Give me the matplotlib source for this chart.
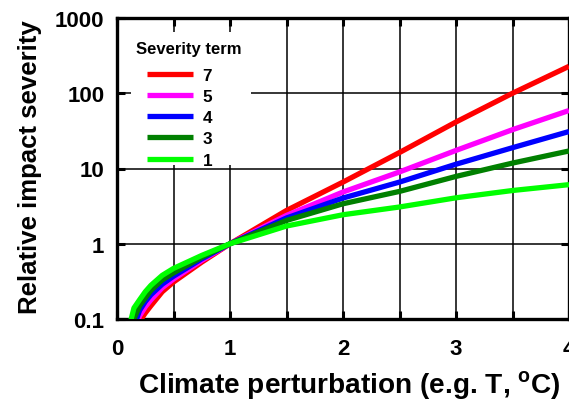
import numpy as np
import matplotlib
matplotlib.use("Agg")
import matplotlib.pyplot as plt
from matplotlib.patches import Rectangle
from matplotlib.ticker import FixedLocator, FixedFormatter, MultipleLocator

plt.rcParams['font.family'] = ['Liberation Sans', 'DejaVu Sans']
plt.rcParams['font.weight'] = 'bold'
plt.rcParams['mathtext.fontset'] = 'custom'
plt.rcParams['mathtext.bf'] = 'Liberation Sans:bold'
plt.rcParams['mathtext.rm'] = 'Liberation Sans:bold'

#============================================
# values
x_vals = [0.10, 0.15, 0.20, 0.25, 0.30, 0.40, 0.50, 0.75, 1.0, 1.5, 2.0, 2.5, 3.0, 3.5, 4.0]

sev_7 = [0.030, 0.060, 0.093, 0.120, 0.150, 0.230, 0.310, 0.570, 1.0, 2.77, 6.6, 16.3, 41.5, 100.0, 228.0]
sev_5 = [0.035, 0.070, 0.110, 0.145, 0.180, 0.260, 0.340, 0.600, 1.0, 2.38, 4.87, 9.0, 17.4, 32.8, 59.0]
sev_4 = [0.040, 0.080, 0.130, 0.170, 0.210, 0.290, 0.370, 0.630, 1.0, 2.20, 4.05, 6.6, 11.4, 18.9, 31.0]
sev_3 = [0.050, 0.100, 0.150, 0.190, 0.240, 0.330, 0.410, 0.660, 1.0, 2.04, 3.40, 4.96, 7.85, 11.8, 17.1]
sev_1 = [0.070, 0.140, 0.180, 0.230, 0.280, 0.380, 0.470, 0.700, 1.0, 1.72, 2.43, 3.08, 4.08, 5.1, 6.1]

series_labels = ["7", "5", "4", "3", "1"]
series_colors = ["#ff0000", "#ff00ff", "#0000ff", "#008000", "#00ff00"]
legend_title = "Severity term"

y_ticks = [0.1, 1, 10, 100, 1000]
y_ticklabels = ["0.1", "1", "10", "100", "1000"]
x_ticks = [0, 1, 2, 3, 4]
x_ticklabels = ["0", "1", "2", "3", "4"]
#============================================


def main():
    fig = plt.figure(figsize=(5.69, 4.02), dpi=100)
    ax = fig.add_axes([117 / 569, 1 - 320 / 402, 1 - 117 / 569, (320 - 19) / 402])

    all_series = [sev_7, sev_5, sev_4, sev_3, sev_1]
    for vals, lab, col in zip(all_series, series_labels, series_colors):
        ax.plot(x_vals, vals, color=col, lw=3.8, label=lab, solid_capstyle='butt', zorder=3)

    ax.set_yscale('log')
    ax.set_xlim(0, 4)
    ax.set_ylim(0.1, 1000)

    ax.yaxis.set_major_locator(FixedLocator(y_ticks))
    ax.yaxis.set_major_formatter(FixedFormatter(y_ticklabels))
    ax.yaxis.set_minor_locator(FixedLocator([]))
    ax.xaxis.set_major_locator(FixedLocator(x_ticks))
    ax.xaxis.set_major_formatter(FixedFormatter(x_ticklabels))
    ax.xaxis.set_minor_locator(MultipleLocator(0.5))

    ax.grid(True, which='major', axis='both', color='black', lw=1.1)
    ax.grid(True, which='minor', axis='x', color='black', lw=1.1)
    ax.set_axisbelow(True)

    ax.tick_params(which='both', direction='in', length=6, width=2.2,
                   top=True, right=True, labelsize=16, pad=9)
    ax.tick_params(axis='x', which='major', pad=14)

    for sp in ax.spines.values():
        sp.set_linewidth(2.4)

    ax.set_xlabel(r"Climate perturbation (e.g. T, $^{\mathbf{o}}$C)", fontsize=20.2, fontweight='bold')
    ax.set_ylabel("Relative impact severity", fontsize=18.5, fontweight='bold')
    ax.xaxis.set_label_coords(0.513, -0.163)
    ax.yaxis.set_label_coords(-0.166, 0.507)

    # white box that blanks the grid behind the legend
    ax.add_patch(Rectangle((0.031, 0.5116), 0.2655, 0.442, transform=ax.transAxes,
                           facecolor='white', edgecolor='none', zorder=1.5))
    ax.text(0.042, 0.900, legend_title, transform=ax.transAxes, fontsize=12,
            fontweight='bold', ha='left', va='center', zorder=4)

    leg = ax.legend(loc='upper left', bbox_to_anchor=(0.0664, 0.834),
                    borderaxespad=0, fontsize=12.3, frameon=False,
                    handlelength=2.7, handletextpad=0.55, labelspacing=0.36,
                    borderpad=0)
    for line in leg.get_lines():
        line.set_linewidth(3.8)

    fig.savefig("out.png", dpi=100)


if __name__ == '__main__':
    main()
